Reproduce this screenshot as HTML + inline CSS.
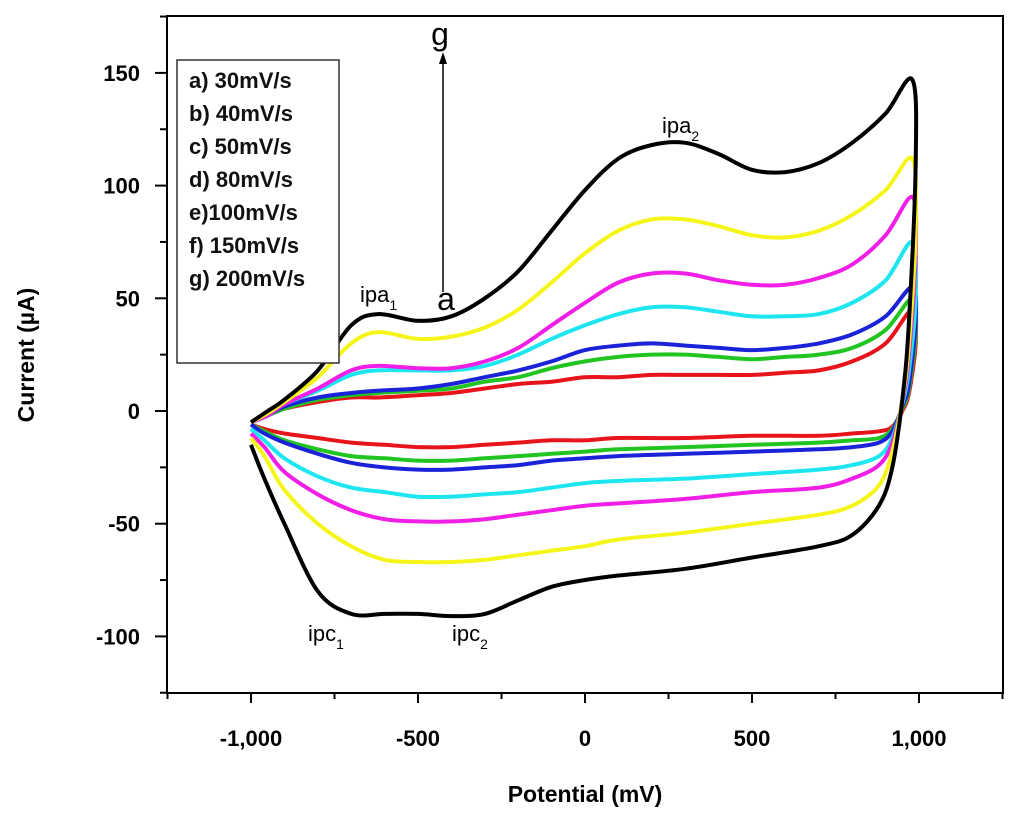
<!DOCTYPE html>
<html><head><meta charset="utf-8"><style>
body{margin:0;background:#fff}
svg text{font-family:"Liberation Sans",Arial,sans-serif}
</style></head><body>
<svg id="chart" width="1024" height="816" viewBox="0 0 1024 816" xmlns="http://www.w3.org/2000/svg">
<rect x="167" y="16" width="836" height="677" fill="none" stroke="#000" stroke-width="2"/>
<g id="ticks"></g>
<g id="series"></g>
<g>
<rect x="177" y="60" width="162" height="303" fill="#fff" stroke="#333" stroke-width="1.5"/>
<g font-size="22" font-weight="bold" fill="#111">
<text x="189" y="88">a) 30mV/s</text>
<text x="189" y="121">b) 40mV/s</text>
<text x="189" y="154">c) 50mV/s</text>
<text x="189" y="187">d) 80mV/s</text>
<text x="189" y="220">e)100mV/s</text>
<text x="189" y="253">f) 150mV/s</text>
<text x="189" y="286">g) 200mV/s</text>
</g></g>
<g>
<line x1="443" y1="292" x2="443" y2="62" stroke="#000" stroke-width="1.5"/>
<polygon points="443,52 439,64 447,64" fill="#000"/>
<text x="440" y="45" font-size="32" text-anchor="middle">g</text>
<text x="446" y="310" font-size="32" text-anchor="middle">a</text>
<text x="360" y="302" font-size="22">ipa<tspan font-size="14" dy="8">1</tspan></text>
<text x="662" y="133" font-size="22">ipa<tspan font-size="14" dy="8">2</tspan></text>
<text x="308" y="641" font-size="22">ipc<tspan font-size="14" dy="8">1</tspan></text>
<text x="452" y="641" font-size="22">ipc<tspan font-size="14" dy="8">2</tspan></text>
</g>
<text x="585" y="802" font-size="23" font-weight="bold" text-anchor="middle">Potential (mV)</text>
<text transform="translate(34,355) rotate(-90)" font-size="23" font-weight="bold" text-anchor="middle">Current (µA)</text>
</svg>
<script>
const xTicks=[-1000,-500,0,500,1000];
const xTickLabels=["-1,000","-500","0","500","1,000"];
const yTicks=[-100,-50,0,50,100,150];
const Ef=[-1000,-950,-900,-800,-700,-620,-500,-400,-300,-200,-100,0,100,200,300,400,500,600,700,800,900,980];
const Er=[990,970,950,920,880,800,700,500,300,100,0,-100,-200,-300,-400,-500,-600,-700,-800,-900,-960,-1000];
const seriesNames=["a","b","c","d","e","f","g"];
const seriesColors=["#e8141c","#22c422","#1a23d8","#1ee6f0","#f01ee6","#f5f51a","#000000"];
const fwdA=[-5,-2,1,4,6,6,7,8,10,12,13,15,15,16,16,16,16,17,18,22,30,45];
const revA=[30,8,0,-7,-9,-10,-11,-11,-12,-12,-13,-13,-14,-15,-16,-16,-15,-14,-12,-10,-8,-6];
const fwdB=[-5,-2,1,5,7,8,9,10,13,15,19,22,24,25,25,24,23,24,25,28,36,50];
const revB=[35,10,1,-8,-12,-13,-14,-15,-16,-17,-18,-19,-20,-21,-22,-22,-21,-20,-17,-13,-9,-6];
const fwdC=[-5,-2,2,6,8,9,10,12,15,18,22,27,29,30,29,28,27,28,30,34,42,55];
const revC=[40,12,2,-9,-14,-16,-17,-18,-19,-20,-21,-22,-24,-25,-26,-26,-25,-23,-19,-14,-10,-6];
const fwdD=[-5,-2,3,9,16,18,18,18,20,25,32,38,43,46,46,44,42,42,43,48,58,75];
const revD=[50,18,3,-12,-20,-24,-26,-28,-30,-31,-32,-34,-36,-37,-38,-38,-36,-34,-29,-21,-13,-8];
const fwdE=[-5,-2,3,10,18,20,19,19,22,28,38,48,57,61,61,58,56,56,59,65,78,95];
const revE=[70,25,4,-14,-24,-30,-34,-36,-39,-41,-42,-44,-46,-48,-49,-49,-48,-44,-37,-27,-16,-10];
const fwdF=[-5,-1,4,15,30,35,32,33,37,45,57,70,80,85,85,82,78,77,80,87,98,112];
const revF=[80,30,5,-18,-33,-42,-46,-50,-54,-57,-60,-62,-64,-66,-67,-67,-66,-60,-50,-35,-20,-12];
const fwdG=[-5,0,5,18,38,43,40,42,50,62,80,98,112,118,119,114,107,106,110,119,132,147];
const revG=[110,40,5,-25,-42,-55,-60,-65,-70,-73,-75,-78,-84,-90,-91,-90,-90,-90,-80,-50,-30,-15];
const fwdAll=[fwdA,fwdB,fwdC,fwdD,fwdE,fwdF,fwdG];
const revAll=[revA,revB,revC,revD,revE,revF,revG];

const NS="http://www.w3.org/2000/svg";
const X=v=>585+v*0.334;
const Y=v=>411-v*2.254;
const tg=document.getElementById('ticks');
function mk(t,a,p){const e=document.createElementNS(NS,t);for(const k in a)e.setAttribute(k,a[k]);p.appendChild(e);return e;}
for(let v=-1250;v<=1250;v+=250){const x=X(v);if(x<166||x>1004)continue;
 const l=mk('line',{x1:x,y1:693,x2:x,y2:v%500===0?703:699,stroke:'#000','stroke-width':2},tg);
 
 }
xTicks.forEach((v,i)=>{const t=mk('text',{x:X(v),y:746,'font-size':22,'font-weight':'bold','text-anchor':'middle'},tg);t.textContent=xTickLabels[i];
 
 });
for(let v=-125;v<=175;v+=25){const y=Y(v);if(y<16||y>693)continue;
 const l=mk('line',{x1:v%50===0?155:160,y1:y,x2:167,y2:y,stroke:'#000','stroke-width':2},tg);
 
 }
yTicks.forEach(v=>{const t=mk('text',{x:140,y:Y(v)+8,'font-size':22,'font-weight':'bold','text-anchor':'end'},tg);t.textContent=String(v);
 
 });
function smooth(pts){let d=`M${pts[0][0].toFixed(1)},${pts[0][1].toFixed(1)}`;
 for(let i=0;i<pts.length-1;i++){const p0=pts[Math.max(0,i-1)],p1=pts[i],p2=pts[i+1],p3=pts[Math.min(pts.length-1,i+2)];
  const c1=[p1[0]+(p2[0]-p0[0])/6,p1[1]+(p2[1]-p0[1])/6],c2=[p2[0]-(p3[0]-p1[0])/6,p2[1]-(p3[1]-p1[1])/6];
  d+=`C${c1[0].toFixed(1)},${c1[1].toFixed(1)} ${c2[0].toFixed(1)},${c2[1].toFixed(1)} ${p2[0].toFixed(1)},${p2[1].toFixed(1)}`;}
 return d;}
const sg=document.getElementById('series');
fwdAll.forEach((fw,i)=>{const pts=Ef.map((e,j)=>[X(e),Y(fw[j])]).concat(Er.map((e,j)=>[X(e),Y(revAll[i][j])]));
 const p=mk('path',{d:smooth(pts),fill:'none',stroke:seriesColors[i],'stroke-width':4,'stroke-linejoin':'round'},sg);
 
 });
</script>
</body></html>
